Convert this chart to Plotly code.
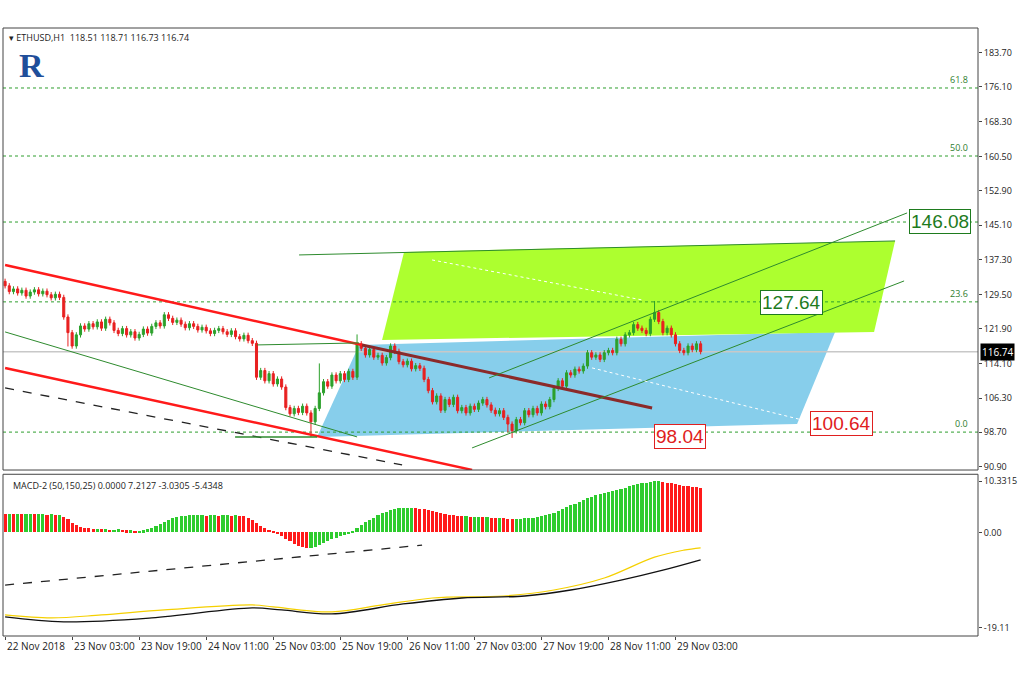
import plotly.graph_objects as go

# ---------------- data ----------------
closes = [131.5,130.2,130.8,129.9,130.5,129.2,130.1,130.6,129.7,130.3,129.5,128.8,129.6,128.9,
          124.5,121.0,118.0,120.5,
          122.5,121.8,123.0,122.3,123.4,122.0,124.0,123.2,121.5,120.8,121.9,120.5,121.2,119.8,120.6,121.8,120.9,122.4,123.2,122.5,
          125.0,124.2,123.3,
          123.8,122.9,122.1,123.0,122.4,121.6,122.2,121.4,120.8,121.5,121.9,121.2,120.6,121.4,120.1,119.6,120.4,119.2,118.6,
          111.0,112.5,110.2,111.8,109.5,110.6,108.8,
          104.2,102.8,104.0,103.1,104.5,103.0,101.0,
          104.0,107.5,110.0,109.0,111.5,110.2,111.8,110.5,112.3,111.0,118.5,
          117.5,116.0,117.2,115.5,115.9,114.2,115.4,118.0,116.8,114.5,113.8,114.6,112.9,113.6,113.0,110.5,
          108.0,105.5,106.8,103.6,106.0,104.9,106.5,103.5,104.2,103.0,104.5,103.8,105.2,106.0,104.8,103.6,102.8,103.5,102.0,100.5,
          99.0,101.5,100.8,103.5,102.6,104.0,103.0,105.0,104.4,106.0,108.5,
          110.2,109.0,112.0,111.5,112.8,112.4,113.5,116.5,115.5,
          116.0,115.0,116.5,117.0,116.5,119.5,118.5,120.5,121.0,122.8,
          122.0,121.5,120.8,124.0,125.5,123.5,121.0,122.0,120.5,118.5,
          117.0,116.5,118.0,117.2,118.5,116.74]
first_open = 132.5
wick_extra = {15: (0, 2.5), 73: (0, 2.8), 75: (6.0, 0), 84: (1.5, 0), 120: (0, 1.2), 121: (0, 1.0), 155: (2.0, 0)}

hist = [3.8,3.8,3.7,3.8,3.7,3.7,3.8,3.7,3.7,3.7,3.6,3.7,3.6,3.6,
        3.2,2.6,1.9,1.4,1.1,0.9,0.8,0.7,0.7,0.6,0.6,0.5,0.5,0.6,0.5,0.4,0.4,0.3,0.3,0.4,0.6,0.9,1.2,1.6,
        2.0,2.4,2.8,3.1,3.3,3.4,3.5,3.5,3.5,3.5,3.4,3.5,3.5,3.4,3.5,3.5,3.4,3.5,3.4,3.3,2.9,2.4,
        1.8,1.3,0.9,0.5,0.1,-0.3,-0.8,-1.3,-1.8,-2.3,-2.7,-3.0,-3.1,-3.1,-2.9,-2.5,-2.1,-1.7,-1.4,-1.1,-0.8,-0.5,-0.2,0.2,0.8,
        1.4,2.0,2.5,3.0,3.5,3.9,4.2,4.5,4.7,4.9,5.0,5.0,5.0,4.9,4.8,4.7,
        4.5,4.3,4.1,3.9,3.8,3.6,3.5,3.4,3.3,3.3,3.2,3.2,3.2,3.1,3.1,3.0,2.9,2.9,2.8,2.7,
        2.6,2.7,2.7,2.8,2.9,3.0,3.1,3.3,3.5,3.7,4.0,
        4.4,4.7,5.1,5.5,5.8,6.2,6.5,6.9,7.2,
        7.5,7.7,7.9,8.1,8.3,8.6,8.8,9.0,9.3,9.6,
        9.8,9.9,10.0,10.1,10.3,10.3,10.2,10.0,9.9,9.7,
        9.5,9.4,9.3,9.2,9.1,9.0]

sig_yellow_x = [0, 11, 23, 38, 59, 64, 78, 90, 102, 119, 131, 143, 155, 162, 166]
sig_yellow_y = [-16.5,-17.1,-16.5,-15.5,-14.5,-14.9,-15.9,-14.5,-13.1,-12.7,-11.5,-9.1,-4.9,-3.5,-3.03]
sig_black_x = [0, 14, 35, 59, 66, 78, 95, 109, 124, 135, 147, 157, 166]
sig_black_y = [-16.9,-17.9,-17.1,-15.1,-15.5,-16.3,-14.3,-13.1,-12.7,-11.5,-9.5,-7.5,-5.43]

tick_idx = [0,16,32,48,64,80,96,112,128,144,160]
tick_text = ["22 Nov 2018","23 Nov 03:00","23 Nov 19:00","24 Nov 11:00","25 Nov 03:00",
             "25 Nov 19:00","26 Nov 11:00","27 Nov 03:00","27 Nov 19:00","28 Nov 11:00","29 Nov 03:00"]
price_ticks = [183.70,176.10,168.30,160.50,152.90,145.10,137.30,129.50,121.90,114.10,106.30,98.70,90.90]
macd_ticks = [10.3315, 0.0, -19.11]
fib_levels = [175.85, 160.6, 145.8, 127.9, 98.7]
fib_names = ["61.8", "50.0", "38.2", "23.6", "0.0"]

# drawing objects given as (pixel x, pixel y)
PX0, PXS = 3.0, 4.19
def X(px): return (px - PX0) / PXS
def P(py): return 183.7 - (py - 53) / 4.461
def M(py): return 10.3315 - (py - 481) / 4.99

blue_poly = [(315,437),(357,345),(833,332),(795,424)]
green_poly = [(380,340),(402,252),(893,241),(872,332)]
seg_lines = [  # (x0,y0,x1,y1,color,width,dash)
    (3,265,360,345,"#ff1a1a",2.5,"solid"),
    (360,345,650,408,"#8b2a2a",3,"solid"),
    (3,368,470,470,"#ff1a1a",2.5,"solid"),
    (3,332,355,437,"#2e8b2e",1,"solid"),
    (3,388,400,465,"#222222",1.3,"dash"),
    (297,255,893,241,"#2e8b2e",1,"solid"),
    (255,345,357,343,"#2e8b2e",1,"solid"),
    (233,437,315,437,"#2e8b2e",1.5,"solid"),
    (487,378,905,213,"#2e8b2e",1,"solid"),
    (470,448,902,281,"#2e8b2e",1,"solid"),
    (430,260,640,300,"white",1,"dot"),
    (590,368,800,420,"white",1,"dot"),
]
macd_dash = (3,585,420,545)
boxes = [("146.08",907,222,"#1e7b1e"),("127.64",758,303,"#1e7b1e"),("98.04",652,437,"#e02020"),("100.64",808,424,"#e02020")]

# ---------------- figure ----------------
n = len(closes)
opens = [first_open] + closes[:-1]
highs, lows = [], []
for i in range(n):
    up, dn = wick_extra.get(i, (0, 0))
    highs.append(max(opens[i], closes[i]) + 0.6 + up)
    lows.append(min(opens[i], closes[i]) - 0.6 - dn)
xs = list(range(n))

fig = go.Figure()
shapes = []
def poly_path(pts):
    return "M " + " L ".join(f"{X(a)},{P(b)}" for a, b in pts) + " Z"
shapes.append(dict(type="path", path=poly_path(blue_poly), fillcolor="#87ceeb", line=dict(width=0), xref="x", yref="y", layer="below"))
shapes.append(dict(type="path", path=poly_path(green_poly), fillcolor="#adff2f", line=dict(width=0), xref="x", yref="y", layer="below"))
for lv in fib_levels:
    shapes.append(dict(type="line", x0=-0.5, x1=232.2, y0=lv, y1=lv, xref="x", yref="y", line=dict(color="#2e9e2e", width=1, dash="dot"), layer="below"))
shapes.append(dict(type="line", x0=-0.5, x1=232.2, y0=116.74, y1=116.74, xref="x", yref="y", line=dict(color="#c8c8c8", width=1.5), layer="below"))
for x0, y0, x1, y1, c, w, d in seg_lines:
    shapes.append(dict(type="line", x0=X(x0), y0=P(y0), x1=X(x1), y1=P(y1), xref="x", yref="y", line=dict(color=c, width=w, dash=d)))
shapes.append(dict(type="line", x0=X(macd_dash[0]), y0=M(macd_dash[1]), x1=X(macd_dash[2]), y1=M(macd_dash[3]), xref="x", yref="y2", line=dict(color="#222", width=1.3, dash="dash")))
shapes.append(dict(type="rect", xref="paper", yref="paper", x0=0, x1=1, y0=0.273, y1=1, line=dict(color="#444", width=1)))
shapes.append(dict(type="rect", xref="paper", yref="paper", x0=0, x1=1, y0=0, y1=0.266, line=dict(color="#444", width=1)))

fig.add_trace(go.Candlestick(x=xs, open=opens, high=highs, low=lows, close=closes,
    increasing=dict(line=dict(color="#2ca02c", width=1), fillcolor="#2ca02c"),
    decreasing=dict(line=dict(color="#e82020", width=1), fillcolor="#e82020"),
    whiskerwidth=0, xaxis="x", yaxis="y"))
hcol = ["#ff1a1a"] + ["#2ecc2e" if hist[i] >= hist[i-1] else "#ff1a1a" for i in range(1, n)]
fig.add_trace(go.Bar(x=xs, y=hist, marker=dict(color=hcol, line=dict(width=0)), width=0.75, xaxis="x", yaxis="y2"))
fig.add_trace(go.Scatter(x=sig_yellow_x, y=sig_yellow_y, mode="lines", line=dict(color="#f5d000", width=1.2, shape="spline"), xaxis="x", yaxis="y2"))
fig.add_trace(go.Scatter(x=sig_black_x, y=sig_black_y, mode="lines", line=dict(color="#111", width=1.3, shape="spline"), xaxis="x", yaxis="y2"))

ann = []
for lv, nm in zip(fib_levels, fib_names):
    ann.append(dict(x=X(968), y=lv, xref="x", yref="y", text=nm, showarrow=False, xanchor="right", yanchor="bottom", font=dict(size=9, color="#2e7d2e")))
for t, px, py, c in boxes:
    ann.append(dict(x=X(px), y=P(py), xref="x", yref="y", text=t, showarrow=False, xanchor="left", yanchor="middle",
                    font=dict(size=19, color=c, family="Arial"), bgcolor="white", bordercolor=c, borderwidth=1, borderpad=1))
ann.append(dict(x=1.0, y=116.74, xref="paper", yref="y", text="116.74", showarrow=False, xanchor="left", xshift=2,
                font=dict(size=10, color="white"), bgcolor="black", borderpad=1))
for ti, tt in zip(tick_idx, tick_text):
    ann.append(dict(x=ti, y=0, xref="x", yref="paper", text=tt, showarrow=False, xanchor="left", yanchor="top", yshift=-1,
                    font=dict(size=10, color="#222")))
ann.append(dict(x=0.004, y=1, xref="paper", yref="paper", text="▾ ETHUSD,H1  118.51 118.71 116.73 116.74", showarrow=False,
                xanchor="left", yanchor="top", yshift=-1, font=dict(size=9, color="#222")))
ann.append(dict(x=0.008, y=0.266, xref="paper", yref="paper", text="MACD-2 (50,150,25) 0.0000 7.2127 -3.0305 -5.4348", showarrow=False,
                xanchor="left", yanchor="top", yshift=-3, font=dict(size=9, color="#222")))
ann.append(dict(x=X(15), y=P(66), xref="x", yref="y", text="<b>R</b>", showarrow=False, xanchor="left",
                font=dict(size=34, color="#1f4e9a", family="Arial Black")))

fig.update_layout(
    width=1024, height=683, paper_bgcolor="white", plot_bgcolor="white", showlegend=False,
    margin=dict(l=3, r=46, t=28, b=47), shapes=shapes, annotations=ann, bargap=0,
    xaxis=dict(range=[-0.5, 232.2], showgrid=False, showticklabels=False, rangeslider=dict(visible=False), zeroline=False,
               anchor="y2", ticks="outside", tickvals=tick_idx, ticklen=3, tickcolor="#444"),
    yaxis=dict(domain=[0.273, 1], range=[90.2, 189.3], side="right", tickvals=price_ticks, ticktext=[f"{v:.2f}" for v in price_ticks],
               showgrid=False, zeroline=False, ticks="outside", ticklen=3, tickfont=dict(size=9, color="#222")),
    yaxis2=dict(domain=[0, 0.266], range=[-20.73, 11.73], side="right", tickvals=macd_ticks, ticktext=["10.3315", "0.00", "-19.11"],
                showgrid=False, zeroline=False, ticks="outside", ticklen=3, tickfont=dict(size=9, color="#222")),
)
fig.write_html("out.html", config={"displayModeBar": False},
               post_script="document.body.style.margin='0';document.body.style.overflow='hidden';")
